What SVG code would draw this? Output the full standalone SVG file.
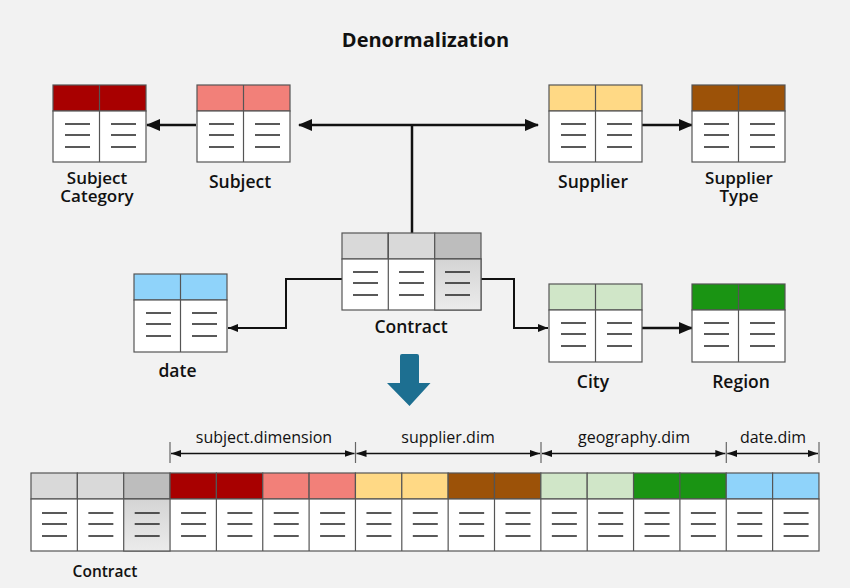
<svg xmlns="http://www.w3.org/2000/svg" xmlns:xlink="http://www.w3.org/1999/xlink" width="850" height="588" viewBox="0 0 850 588">
<style>
text{font-family:"Open Sans","Noto Sans","Liberation Sans",sans-serif;fill:#111;text-anchor:middle}
.title{font-size:20px;font-weight:700}
.lbl{font-size:17.5px;font-weight:600}
.lbl2{font-size:17px;font-weight:600}
.dimlbl{font-size:16px;font-weight:500}
.body{fill:#fff;stroke:#555;stroke-width:1.2}
.hd{stroke:#555;stroke-width:1.2}
.div{stroke:#555;stroke-width:1.2}
.ln{stroke:#222;stroke-width:1.5}
.con{fill:none;stroke:#111}
.thick{stroke-width:2.5}
.thin{stroke-width:2}
.dim{fill:none;stroke:#111;stroke-width:1.4}
.tick{stroke:#666;stroke-width:1.2}
</style>
<defs>
<g id="lines"><line class="ln" x1="0" y1="13" x2="25" y2="13"/><line class="ln" x1="0" y1="24" x2="25" y2="24"/><line class="ln" x1="0" y1="36" x2="25" y2="36"/></g>
<linearGradient id="gr" x1="0" y1="0" x2="0" y2="1"><stop offset="0" stop-color="#d4d4d4"/><stop offset="1" stop-color="#ebebeb"/></linearGradient>
<marker id="ab" markerUnits="userSpaceOnUse" markerWidth="14" markerHeight="14" viewBox="0 0 14 14" refX="13" refY="7" orient="auto-start-reverse"><path d="M0,1 L14,7 L0,13 Z" fill="#111"/></marker>
<marker id="as" markerUnits="userSpaceOnUse" markerWidth="10" markerHeight="10" viewBox="0 0 10 10" refX="10" refY="5" orient="auto-start-reverse"><path d="M0,1 L10,5 L0,9 Z" fill="#111"/></marker>
<marker id="ad" markerUnits="userSpaceOnUse" markerWidth="10" markerHeight="10" viewBox="0 0 10 10" refX="10" refY="5" orient="auto-start-reverse"><path d="M0,1.5 L10,5 L0,8.5 Z" fill="#111"/></marker>
</defs>
<rect width="850" height="588" fill="#f2f2f2"/>
<text class="title" x="425.5" y="47">Denormalization</text>

<g id="connectors">
<line class="con thick" x1="196" y1="125" x2="147" y2="125" marker-end="url(#ab)"/>
<line class="con thick" x1="299" y1="125" x2="538" y2="125" marker-start="url(#ab)" marker-end="url(#ab)"/>
<line class="con thick" x1="412" y1="125" x2="412" y2="233"/>
<line class="con thick" x1="642" y1="125" x2="692" y2="125" marker-end="url(#ab)"/>
<polyline class="con thin" points="342,279 286,279 286,328 228,328" marker-end="url(#as)"/>
<polyline class="con thin" points="481,279 514,279 514,328 548,328" marker-end="url(#as)"/>
<line class="con thick" x1="642" y1="328" x2="692" y2="328" marker-end="url(#ab)"/>
</g>

<g id="subject-category">
<rect class="hd" x="53" y="85" width="93" height="26" fill="#a80000"/>
<rect class="body" x="53" y="111" width="93" height="51"/>
<line class="div" x1="99.5" y1="85" x2="99.5" y2="162"/>
<use href="#lines" x="65" y="111"/><use href="#lines" x="111" y="111"/>
<text class="lbl2" x="97" y="184">Subject<tspan x="97" dy="18">Category</tspan></text>
</g>

<g id="subject">
<rect class="hd" x="197" y="85" width="93" height="26" fill="#f28079"/>
<rect class="body" x="197" y="111" width="93" height="51"/>
<line class="div" x1="243.5" y1="85" x2="243.5" y2="162"/>
<use href="#lines" x="209" y="111"/><use href="#lines" x="255" y="111"/>
<text class="lbl" x="240" y="188">Subject</text>
</g>

<g id="supplier">
<rect class="hd" x="549" y="85" width="93" height="26" fill="#ffd985"/>
<rect class="body" x="549" y="111" width="93" height="51"/>
<line class="div" x1="595.5" y1="85" x2="595.5" y2="162"/>
<use href="#lines" x="561" y="111"/><use href="#lines" x="607" y="111"/>
<text class="lbl" x="593" y="188">Supplier</text>
</g>

<g id="supplier-type">
<rect class="hd" x="692" y="85" width="93" height="26" fill="#9c5208"/>
<rect class="body" x="692" y="111" width="93" height="51"/>
<line class="div" x1="738.5" y1="85" x2="738.5" y2="162"/>
<use href="#lines" x="704" y="111"/><use href="#lines" x="750" y="111"/>
<text class="lbl2" x="739" y="184">Supplier<tspan x="739" dy="18">Type</tspan></text>
</g>

<g id="contract">
<rect class="hd" x="342" y="233" width="46.3" height="26" fill="#d9d9d9"/>
<rect class="hd" x="388.3" y="233" width="46.4" height="26" fill="#d9d9d9"/>
<rect class="hd" x="434.7" y="233" width="46.3" height="26" fill="#bdbdbd"/>
<rect class="body" x="342" y="259" width="139" height="51"/>
<rect x="434.7" y="259" width="46.3" height="51" fill="url(#gr)" stroke="#555" stroke-width="1.2"/>
<line class="div" x1="388.3" y1="233" x2="388.3" y2="310"/>
<use href="#lines" x="353" y="259"/><use href="#lines" x="399" y="259"/><use href="#lines" x="445" y="259"/>
<text class="lbl" x="411" y="333">Contract</text>
</g>

<g id="date">
<rect class="hd" x="134" y="274" width="93" height="26" fill="#8fd3fa"/>
<rect class="body" x="134" y="300" width="93" height="52"/>
<line class="div" x1="180.5" y1="274" x2="180.5" y2="352"/>
<use href="#lines" x="146" y="300"/><use href="#lines" x="192" y="300"/>
<text class="lbl" x="177.5" y="377">date</text>
</g>

<g id="city">
<rect class="hd" x="549" y="284" width="93" height="26" fill="#d0e6c8"/>
<rect class="body" x="549" y="310" width="93" height="52"/>
<line class="div" x1="595.5" y1="284" x2="595.5" y2="362"/>
<use href="#lines" x="561" y="310"/><use href="#lines" x="607" y="310"/>
<text class="lbl" x="593" y="388">City</text>
</g>

<g id="region">
<rect class="hd" x="692" y="284" width="93" height="26" fill="#1a9413"/>
<rect class="body" x="692" y="310" width="93" height="52"/>
<line class="div" x1="738.5" y1="284" x2="738.5" y2="362"/>
<use href="#lines" x="704" y="310"/><use href="#lines" x="750" y="310"/>
<text class="lbl" x="741" y="388">Region</text>
</g>

<g id="down-arrow">
<path d="M400,356 Q400,354 402,354 L417,354 Q419,354 419,356 L419,383 L430.5,383 L409.5,406 L387,383 L400,383 Z" fill="#1d6f91"/>
</g>

<g id="dimension-labels">
<line class="tick" x1="170" y1="442" x2="170" y2="463"/>
<line class="tick" x1="355.5" y1="442" x2="355.5" y2="463"/>
<line class="tick" x1="541" y1="442" x2="541" y2="463"/>
<line class="tick" x1="726.3" y1="442" x2="726.3" y2="463"/>
<line class="tick" x1="819" y1="442" x2="819" y2="463"/>
<line class="dim" x1="171" y1="453.5" x2="354.5" y2="453.5" marker-start="url(#ad)" marker-end="url(#ad)"/>
<line class="dim" x1="356.5" y1="453.5" x2="540" y2="453.5" marker-start="url(#ad)" marker-end="url(#ad)"/>
<line class="dim" x1="542" y1="453.5" x2="725.3" y2="453.5" marker-start="url(#ad)" marker-end="url(#ad)"/>
<line class="dim" x1="727.3" y1="453.5" x2="818" y2="453.5" marker-start="url(#ad)" marker-end="url(#ad)"/>
<text class="dimlbl" x="264" y="443">subject.dimension</text>
<text class="dimlbl" x="448" y="443">supplier.dim</text>
<text class="dimlbl" x="634" y="443">geography.dim</text>
<text class="dimlbl" x="773" y="443">date.dim</text>
</g>

<g id="denormalized-table">
<rect class="hd" x="31" y="473" width="46.35" height="26" fill="#d9d9d9"/>
<rect class="hd" x="77.35" y="473" width="46.35" height="26" fill="#d9d9d9"/>
<rect class="hd" x="123.7" y="473" width="46.35" height="26" fill="#bdbdbd"/>
<rect class="hd" x="170.05" y="473" width="46.35" height="26" fill="#a80000"/>
<rect class="hd" x="216.4" y="473" width="46.35" height="26" fill="#a80000"/>
<rect class="hd" x="262.75" y="473" width="46.35" height="26" fill="#f28079"/>
<rect class="hd" x="309.1" y="473" width="46.35" height="26" fill="#f28079"/>
<rect class="hd" x="355.45" y="473" width="46.35" height="26" fill="#ffd985"/>
<rect class="hd" x="401.8" y="473" width="46.35" height="26" fill="#ffd985"/>
<rect class="hd" x="448.15" y="473" width="46.35" height="26" fill="#9c5208"/>
<rect class="hd" x="494.5" y="473" width="46.35" height="26" fill="#9c5208"/>
<rect class="hd" x="540.85" y="473" width="46.35" height="26" fill="#d0e6c8"/>
<rect class="hd" x="587.2" y="473" width="46.35" height="26" fill="#d0e6c8"/>
<rect class="hd" x="633.55" y="473" width="46.35" height="26" fill="#1a9413"/>
<rect class="hd" x="679.9" y="473" width="46.35" height="26" fill="#1a9413"/>
<rect class="hd" x="726.25" y="473" width="46.35" height="26" fill="#8fd3fa"/>
<rect class="hd" x="772.6" y="473" width="46.35" height="26" fill="#8fd3fa"/>
<rect class="body" x="31" y="499" width="788" height="52"/>
<rect x="123.7" y="499" width="46.35" height="52" fill="url(#gr)" stroke="#555" stroke-width="1.2"/>
<g class="div">
<line x1="77.35" y1="499" x2="77.35" y2="551"/>
<line x1="216.4" y1="499" x2="216.4" y2="551"/>
<line x1="262.75" y1="499" x2="262.75" y2="551"/>
<line x1="309.1" y1="499" x2="309.1" y2="551"/>
<line x1="355.45" y1="499" x2="355.45" y2="551"/>
<line x1="401.8" y1="499" x2="401.8" y2="551"/>
<line x1="448.15" y1="499" x2="448.15" y2="551"/>
<line x1="494.5" y1="499" x2="494.5" y2="551"/>
<line x1="540.85" y1="499" x2="540.85" y2="551"/>
<line x1="587.2" y1="499" x2="587.2" y2="551"/>
<line x1="633.55" y1="499" x2="633.55" y2="551"/>
<line x1="679.9" y1="499" x2="679.9" y2="551"/>
<line x1="726.25" y1="499" x2="726.25" y2="551"/>
<line x1="772.6" y1="499" x2="772.6" y2="551"/>
</g>
<use href="#lines" x="42" y="500"/><use href="#lines" x="88.35" y="500"/><use href="#lines" x="134.7" y="500"/>
<use href="#lines" x="181.05" y="500"/><use href="#lines" x="227.4" y="500"/><use href="#lines" x="273.75" y="500"/>
<use href="#lines" x="320.1" y="500"/><use href="#lines" x="366.45" y="500"/><use href="#lines" x="412.8" y="500"/>
<use href="#lines" x="459.15" y="500"/><use href="#lines" x="505.5" y="500"/><use href="#lines" x="551.85" y="500"/>
<use href="#lines" x="598.2" y="500"/><use href="#lines" x="644.55" y="500"/><use href="#lines" x="690.9" y="500"/>
<use href="#lines" x="737.25" y="500"/><use href="#lines" x="783.6" y="500"/>
<text x="105" y="577" style="font-size:15.5px;font-weight:600">Contract</text>
</g>
</svg>
